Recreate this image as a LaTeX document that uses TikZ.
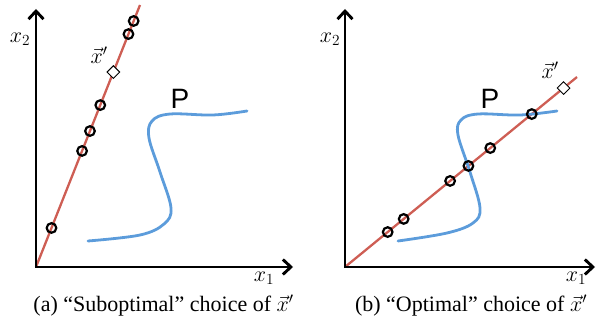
\RequirePackage{fix-cm}
\documentclass[tikz,border=0pt]{standalone}
\usepackage[no-math]{fontspec}
\setmainfont{Liberation Serif}
\newfontfamily\Psans{Liberation Sans}
\usetikzlibrary{arrows.meta,calc,shapes.geometric}
\definecolor{rayred}{RGB}{206,94,84}
\definecolor{frontblue}{RGB}{92,156,219}
\begin{document}
\begin{tikzpicture}[x=1pt,y=-1pt,
  axis/.style={line width=2.9pt, line join=miter,
    {Straight Barb[length=8pt,width=15pt]}-{Straight Barb[length=8pt,width=15pt]}},
  ray/.style={draw=rayred, line width=2.3pt},
  front/.style={draw=frontblue, line width=2.8pt, line cap=round},
  sample/.style={circle, draw=black, line width=2.2pt, minimum size=9.6pt, inner sep=0pt},
  xprime/.style={diamond, draw=black, fill=white, line width=0.9pt, minimum size=13pt, inner sep=0pt},
  lab/.style={font=\fontsize{22}{22}\selectfont, inner sep=0pt},
  plab/.style={font=\Psans\fontsize{28}{28}\selectfont, inner sep=0pt},
  capt/.style={font=\fontsize{22}{22}\selectfont, inner sep=0pt, anchor=base}]
\useasboundingbox (0,0) rectangle (604,326);

% ---------- left panel ----------
\coordinate (oA) at (36,267);
\coordinate (yA) at (36,9);
\coordinate (xA) at (293,267);
\coordinate (rA) at (140,5);
\draw[ray] (oA) -- (rA);
\draw[front] plot[smooth,tension=0.6] coordinates {(88,241) (140,235) (164,224) (171,208) (160,172) (149,138) (152,121) (170,114) (213,115) (247,111)};
\draw[axis] (yA) -- (oA) -- (xA);
\node[sample] (a1) at ($(oA)!0.149!(rA)$) {};
\node[sample] (a2) at ($(oA)!0.443!(rA)$) {};
\node[sample] (a3) at ($(oA)!0.519!(rA)$) {};
\node[sample] (a4) at ($(oA)!0.618!(rA)$) {};
\node[sample] (a5) at ($(oA)!0.889!(rA)$) {};
\node[sample] (a6) at ($(oA)!0.939!(rA)$) {};
\node[xprime] (dA) at ($(oA)!0.744!(rA)$) {};
\node[lab] (x2A) at (20,39) {$x_2$};
\node[lab] (x1A) at (264,278) {$x_1$};
\node[lab] (xpA) at (99,55) {$\vec{x}'$};
\node[plab] (PA) at (180,99) {P};
\node[capt] (capA) at (163.5,311) {(a) “Suboptimal” choice of $\vec{x}'$};

% ---------- right panel ----------
\coordinate (oB) at (345,267);
\coordinate (yB) at (345,9);
\coordinate (xB) at (595,267);
\coordinate (rB) at (577,77);
\draw[ray] (oB) -- (rB);
\draw[front] plot[smooth,tension=0.6] coordinates {(398,241) (447,233) (473,223) (480,208) (470,172) (458,135) (461,120) (478,114) (520,115) (557,111)};
\draw[axis] (yB) -- (oB) -- (xB);
\node[sample] (b1) at ($(oB)!0.184!(rB)$) {};
\node[sample] (b2) at ($(oB)!0.253!(rB)$) {};
\node[sample] (b3) at ($(oB)!0.453!(rB)$) {};
\node[sample] (b4) at ($(oB)!0.532!(rB)$) {};
\node[sample] (b5) at ($(oB)!0.626!(rB)$) {};
\node[sample] (b6) at ($(oB)!0.805!(rB)$) {};
\node[xprime] (dB) at ($(oB)!0.942!(rB)$) {};
\node[lab] (x2B) at (330,39) {$x_2$};
\node[lab] (x1B) at (576,278) {$x_1$};
\node[lab] (xpB) at (550,70) {$\vec{x}'$};
\node[plab] (PB) at (490,99) {P};
\node[capt] (capB) at (471,311) {(b) “Optimal” choice of $\vec{x}'$};
\end{tikzpicture}
\end{document}
